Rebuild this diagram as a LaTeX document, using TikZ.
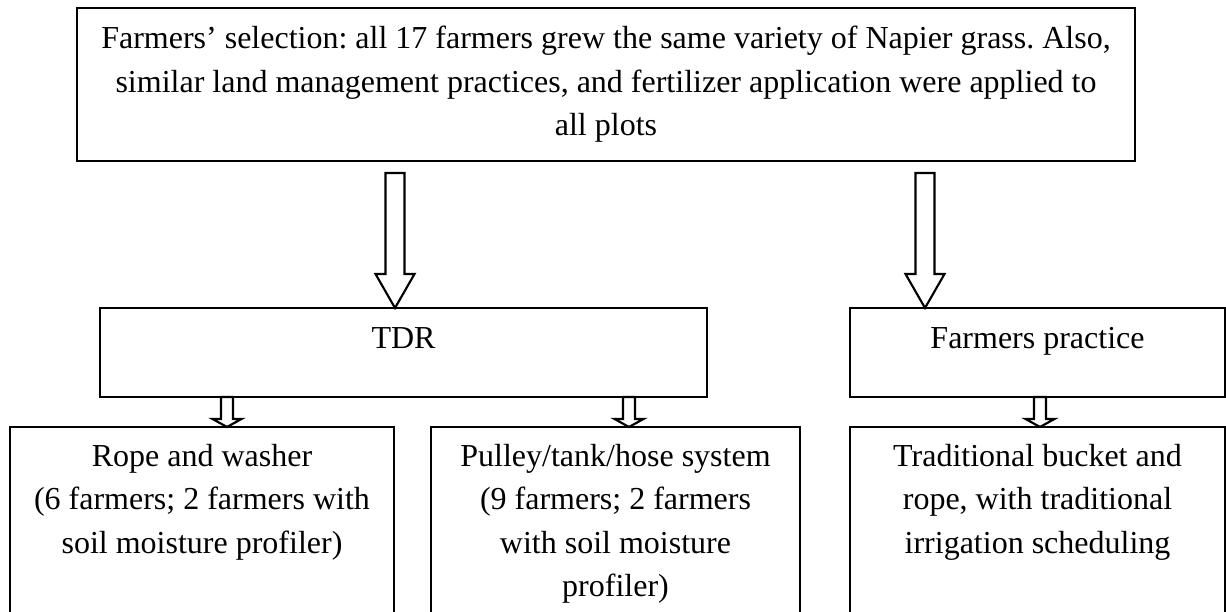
\documentclass[tikz,border=0pt]{standalone}
\usepackage{fontspec}
\setmainfont{Liberation Serif}
\usetikzlibrary{calc}
\usetikzlibrary{positioning}
\frenchspacing

% hollow block arrow: from, to, column, gap, shaft half, head half, head length
\newcommand{\hollowarrow}[7]{%
  \draw[hollow] ($(#1 -| #3)+(-#5,#4)$) -- ($(#2 -| #3)+(-#5,-#7)$)
    -- ($(#2 -| #3)+(-#6,-#7)$) -- (#2 -| #3) -- ($(#2 -| #3)+(#6,-#7)$)
    -- ($(#2 -| #3)+(#5,-#7)$) -- ($(#1 -| #3)+(#5,#4)$) -- cycle;}

\begin{document}
\begin{tikzpicture}
    [x=0.375pt,y=-0.375pt,
    box/.style={rectangle,draw=black,line width=0.8pt,inner sep=0pt,outer sep=0pt},
    txt/.style={align=center,inner sep=0pt,font=\fontsize{12}{16.3}\selectfont},
    hollow/.style={draw=black,line width=0.8pt,fill=white,line join=miter}]

    \useasboundingbox (0,0) rectangle (1226,611);
    \clip (0,0) rectangle (1226,611);

    % boxes
    \node (selection) at ( 606,84.5) [box,minimum width=396.75pt,minimum height=57.375pt] {};

    \node (tdr)       at (403.5,352.5) [box,minimum width=227.6pt,minimum height=33.4pt] {};

    \node (practice)  at (1037.5,352.5) [box,minimum width=140.6pt,minimum height=33.4pt] {};

    \node (rope)      at ( 202,533.5) [box,minimum width=144pt,minimum height=79.9pt] {};

    \node (pulley)    at (615.5,533.5) [box,minimum width=138.4pt,minimum height=79.9pt] {};

    \node (bucket)    at (1037.5,533.5) [box,minimum width=140.6pt,minimum height=79.9pt] {};

    % texts
    \node (selection text) [txt,below=6.7pt of selection.north]
      {Farmers’ selection: all 17 farmers grew the same variety of Napier grass. Also,\\
       similar land management practices, and fertilizer application were applied to\\
       all plots};

    \node (tdr text) [txt,below=7.1pt of tdr.north] {TDR};

    \node (practice text) [txt,below=7.1pt of practice.north] {Farmers practice};

    \node (rope text) [txt,below=6.2pt of rope.north]
      {Rope and washer\\(6 farmers; 2 farmers with\\soil moisture profiler)};

    \node (pulley text) [txt,below=6.2pt of pulley.north]
      {Pulley/tank/hose system\\(9 farmers; 2 farmers\\with soil moisture\\profiler)};

    \node (bucket text) [txt,below=6.2pt of bucket.north]
      {Traditional bucket and\\rope, with traditional\\irrigation scheduling};

    % arrow columns
    \coordinate (col tdr)      at ( 395,0);
    \coordinate (col practice) at ( 925,0);
    \coordinate (col rope)     at ( 227,0);
    \coordinate (col pulley)   at ( 629,0);
    \coordinate (col bucket)   at (1040,0);

    \hollowarrow{selection.south}{tdr.north}{col tdr}{12}{9.5}{19.5}{34}
    \hollowarrow{selection.south}{practice.north}{col practice}{12}{9.5}{19.5}{34}
    \hollowarrow{tdr.south}{rope.north}{col rope}{0}{6}{14.5}{8}
    \hollowarrow{tdr.south}{pulley.north}{col pulley}{0}{6}{14.5}{8}
    \hollowarrow{practice.south}{bucket.north}{col bucket}{0}{6}{14.5}{8}

\end{tikzpicture}
\end{document}
